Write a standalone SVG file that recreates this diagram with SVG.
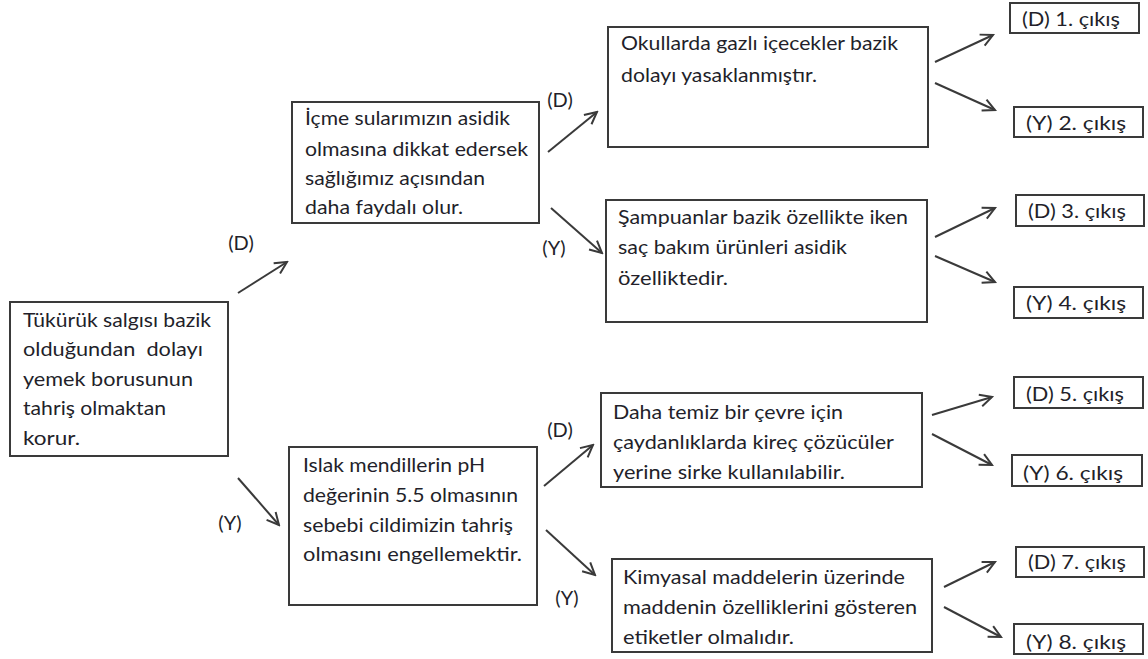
<svg xmlns="http://www.w3.org/2000/svg" width="1148" height="659" viewBox="0 0 1148 659">
<style>
.box{fill:#fff;stroke:#3a3a3a;stroke-width:2}
text{font-family:Lato,"Open Sans","Liberation Sans",sans-serif;font-size:20px;fill:#231f2a}
.lbl{text-anchor:middle}
.con line{stroke:#3a3a3a;stroke-width:2;marker-end:url(#arr)}
</style>
<defs>
<marker id="arr" markerUnits="userSpaceOnUse" markerWidth="16" markerHeight="16" refX="12" refY="6" orient="auto" viewBox="-2 -2 16 16">
<path d="M0,0 L12,6 L0,12" fill="none" stroke="#3a3a3a" stroke-width="2"/>
</marker>
</defs>
<rect width="1148" height="659" fill="#fff"/>

<g id="n1">
<rect class="box" x="10" y="302" width="218" height="154"/>
<text x="23" y="327" textLength="188" lengthAdjust="spacingAndGlyphs">Tükürük salgısı bazik</text>
<text x="23" y="356" textLength="180" lengthAdjust="spacingAndGlyphs">olduğundan&#160; dolayı</text>
<text x="23" y="386" textLength="170" lengthAdjust="spacingAndGlyphs">yemek borusunun</text>
<text x="23" y="415" textLength="143" lengthAdjust="spacingAndGlyphs">tahriş olmaktan</text>
<text x="23" y="445" textLength="57" lengthAdjust="spacingAndGlyphs">korur.</text>
</g>

<g id="n2">
<rect class="box" x="292" y="102" width="247" height="121"/>
<text x="305" y="125" textLength="205" lengthAdjust="spacingAndGlyphs">İçme sularımızın asidik</text>
<text x="305" y="156" textLength="223" lengthAdjust="spacingAndGlyphs">olmasına dikkat edersek</text>
<text x="305" y="185" textLength="180" lengthAdjust="spacingAndGlyphs">sağlığımız açısından</text>
<text x="305" y="214" textLength="158" lengthAdjust="spacingAndGlyphs">daha faydalı olur.</text>
</g>

<g id="n3">
<rect class="box" x="289" y="447" width="248" height="158"/>
<text x="303" y="472" textLength="182" lengthAdjust="spacingAndGlyphs">Islak mendillerin pH</text>
<text x="303" y="502" textLength="215" lengthAdjust="spacingAndGlyphs">değerinin 5.5 olmasının</text>
<text x="303" y="532" textLength="210" lengthAdjust="spacingAndGlyphs">sebebi cildimizin tahriş</text>
<text x="303" y="561" textLength="219" lengthAdjust="spacingAndGlyphs">olmasını engellemektir.</text>
</g>

<g id="n4">
<rect class="box" x="608" y="27" width="320" height="120"/>
<text x="621" y="50" textLength="277" lengthAdjust="spacingAndGlyphs">Okullarda gazlı içecekler bazik</text>
<text x="621" y="82" textLength="196" lengthAdjust="spacingAndGlyphs">dolayı yasaklanmıştır.</text>
</g>

<g id="n5">
<rect class="box" x="606" y="200" width="321" height="122"/>
<text x="618" y="224" textLength="290" lengthAdjust="spacingAndGlyphs">Şampuanlar bazik özellikte iken</text>
<text x="618" y="254" textLength="229" lengthAdjust="spacingAndGlyphs">saç bakım ürünleri asidik</text>
<text x="618" y="285" textLength="110" lengthAdjust="spacingAndGlyphs">özelliktedir.</text>
</g>

<g id="n6">
<rect class="box" x="601" y="393" width="321" height="94"/>
<text x="613" y="419" textLength="230" lengthAdjust="spacingAndGlyphs">Daha temiz bir çevre için</text>
<text x="613" y="449" textLength="281" lengthAdjust="spacingAndGlyphs">çaydanlıklarda kireç çözücüler</text>
<text x="613" y="479" textLength="232" lengthAdjust="spacingAndGlyphs">yerine sirke kullanılabilir.</text>
</g>

<g id="n7">
<rect class="box" x="612" y="559" width="320" height="93"/>
<text x="623" y="584" textLength="282" lengthAdjust="spacingAndGlyphs">Kimyasal maddelerin üzerinde</text>
<text x="623" y="614" textLength="294" lengthAdjust="spacingAndGlyphs">maddenin özelliklerini gösteren</text>
<text x="623" y="644" textLength="171" lengthAdjust="spacingAndGlyphs">etiketler olmalıdır.</text>
</g>

<g id="o1"><rect class="box" x="1010" y="3" width="129" height="30"/><text x="1022" y="26" textLength="98" lengthAdjust="spacingAndGlyphs">(D) 1. çıkış</text></g>
<g id="o2"><rect class="box" x="1014" y="107" width="129" height="30"/><text x="1026" y="130" textLength="100" lengthAdjust="spacingAndGlyphs">(Y) 2. çıkış</text></g>
<g id="o3"><rect class="box" x="1016" y="195" width="128" height="31"/><text x="1028" y="218" textLength="98" lengthAdjust="spacingAndGlyphs">(D) 3. çıkış</text></g>
<g id="o4"><rect class="box" x="1014" y="287" width="129" height="31"/><text x="1026" y="310" textLength="100" lengthAdjust="spacingAndGlyphs">(Y) 4. çıkış</text></g>
<g id="o5"><rect class="box" x="1014" y="377" width="129" height="31"/><text x="1026" y="401" textLength="98" lengthAdjust="spacingAndGlyphs">(D) 5. çıkış</text></g>
<g id="o6"><rect class="box" x="1012" y="455" width="130" height="31"/><text x="1023" y="480" textLength="100" lengthAdjust="spacingAndGlyphs">(Y) 6. çıkış</text></g>
<g id="o7"><rect class="box" x="1016" y="547" width="128" height="30"/><text x="1028" y="569" textLength="98" lengthAdjust="spacingAndGlyphs">(D) 7. çıkış</text></g>
<g id="o8"><rect class="box" x="1014" y="624" width="129" height="30"/><text x="1026" y="649" textLength="100" lengthAdjust="spacingAndGlyphs">(Y) 8. çıkış</text></g>

<g id="connectors" class="con">
<line x1="238" y1="293" x2="287" y2="262"/>
<line x1="238" y1="478" x2="279" y2="525"/>
<line x1="548" y1="152" x2="597" y2="112"/>
<line x1="551" y1="208" x2="602" y2="253"/>
<line x1="544" y1="486" x2="593" y2="445"/>
<line x1="546" y1="530" x2="595" y2="575"/>
<line x1="935" y1="62" x2="993" y2="35"/>
<line x1="935" y1="83" x2="995" y2="110"/>
<line x1="935" y1="237" x2="995" y2="208"/>
<line x1="935" y1="256" x2="995" y2="282"/>
<line x1="932" y1="415" x2="992" y2="397"/>
<line x1="932" y1="434" x2="992" y2="465"/>
<line x1="944" y1="587" x2="995" y2="562"/>
<line x1="944" y1="607" x2="1001" y2="637"/>
</g>

<g id="labels">
<text class="lbl" x="241" y="250">(D)</text>
<text class="lbl" x="230" y="530">(Y)</text>
<text class="lbl" x="560" y="107">(D)</text>
<text class="lbl" x="554" y="255">(Y)</text>
<text class="lbl" x="560" y="437">(D)</text>
<text class="lbl" x="567" y="605">(Y)</text>
</g>
</svg>
